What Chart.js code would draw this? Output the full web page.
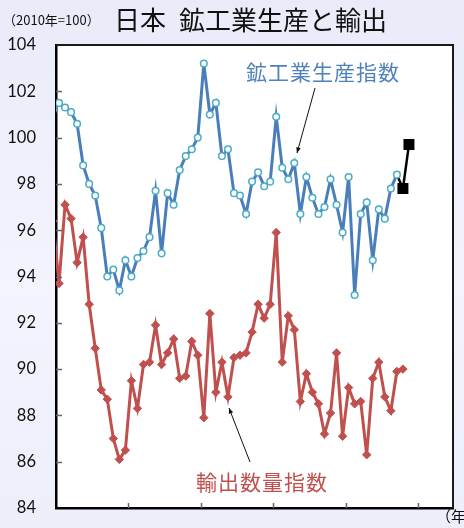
<!DOCTYPE html>
<html>
<head>
<meta charset="utf-8">
<script src="https://cdn.jsdelivr.net/npm/chart.js@4.4.1/dist/chart.umd.min.js"></script>
<style>
  html, body { margin: 0; padding: 0; }
  body {
    width: 464px; height: 528px; overflow: hidden;
    background: linear-gradient(180deg, #e9ebf9 0%, #f3f4fd 55%, #eceefa 100%);
  }
  #wrap { position: relative; width: 464px; height: 528px; }
</style>
</head>
<body>
<div id="wrap"><canvas id="chart" width="464" height="528"></canvas></div>
<script>
'use strict';

// 月次 (2011年12月〜2016年10月)、x = 2012年1月からの月数
const yearLabels = ['2012', '2013', '2014', '2015', '2016', '2017'];
const yTicks = [84, 86, 88, 90, 92, 94, 96, 98, 100, 102, 104];

// 鉱工業生産指数 (2011/12 〜 2016/9)
const production = [101.2, 101.5, 101.3, 101.1, 100.6, 98.8, 98.0, 97.5, 96.1, 94.0, 94.3, 93.4,
    94.7, 94.0, 94.8, 95.1, 95.7, 97.7, 95.0, 97.6, 97.1, 98.6, 99.2, 99.5,
    100.0, 103.2, 101.0, 101.5, 99.2, 99.5, 97.6, 97.5, 96.7, 98.1, 98.5, 97.9,
    98.1, 100.9, 98.7, 98.2, 98.9, 96.7, 98.3, 97.4, 96.7, 97.0, 98.2, 97.1,
    95.9, 98.3, 93.2, 96.7, 97.2, 94.7, 96.9, 96.5, 97.8, 98.4];

// 輸出数量指数 (2011/12 〜 2016/10)
const exportsVolume = [96.4, 93.7, 97.1, 96.5, 94.6, 95.7, 92.8, 90.9, 89.1, 88.7, 87.0, 86.1,
    86.5, 89.5, 88.3, 90.2, 90.3, 91.9, 90.2, 90.7, 91.3, 89.6, 89.7, 91.2,
    90.6, 87.9, 92.4, 89.0, 90.3, 88.8, 90.5, 90.6, 90.7, 91.6, 92.8, 92.2,
    92.8, 95.9, 90.3, 92.3, 91.7, 88.6, 89.8, 89.0, 88.5, 87.2, 88.1, 90.7,
    87.1, 89.2, 88.5, 88.6, 86.3, 89.6, 90.3, 88.8, 88.2, 89.9, 90.0];

// 製造工業生産予測 (2016/9 実績 → 10月, 11月)
const forecast = [98.4, 97.8, 99.7];
const forecastStart = 56; // 2016年9月

const xMax = 65.8;

function toPoints(values, firstMonth) {
    return values.map((v, k) => ({ x: firstMonth + k + 0.5, y: v }));
}

const jp = '"Noto Sans CJK JP", "Noto Sans", sans-serif';

function arrow(ctx, x1, y1, x2, y2) {
    const ang = Math.atan2(y2 - y1, x2 - x1);
    ctx.save();
    ctx.strokeStyle = '#111';
    ctx.fillStyle = '#111';
    ctx.lineWidth = 1;
    ctx.beginPath();
    ctx.moveTo(x1, y1);
    ctx.lineTo(x2, y2);
    ctx.stroke();
    ctx.beginPath();
    ctx.moveTo(x2, y2);
    ctx.lineTo(x2 - 6 * Math.cos(ang - 0.4), y2 - 6 * Math.sin(ang - 0.4));
    ctx.lineTo(x2 - 6 * Math.cos(ang + 0.4), y2 - 6 * Math.sin(ang + 0.4));
    ctx.closePath();
    ctx.fill();
    ctx.restore();
}

const decorPlugin = {
    id: 'decor',
    beforeDraw(chart) {
        const { ctx, chartArea: a } = chart;
        ctx.save();
        ctx.fillStyle = '#ffffff';
        ctx.fillRect(a.left, a.top, a.right - a.left, a.bottom - a.top);
        ctx.restore();
    },
    afterDraw(chart) {
        const { ctx, chartArea: a } = chart;
        const xs = chart.scales.x;
        const ys = chart.scales.y;
        ctx.save();

        // 枠
        ctx.strokeStyle = '#1a1a1a';
        ctx.lineWidth = 2;
        ctx.beginPath();
        ctx.moveTo(a.left, a.top);
        ctx.lineTo(a.right, a.top);
        ctx.lineTo(a.right, a.bottom);
        ctx.stroke();

        // 内向きの目盛り
        ctx.strokeStyle = '#666';
        ctx.lineWidth = 1.5;
        yTicks.slice(1, -1).forEach(v => {
            const y = Math.round(ys.getPixelForValue(v)) + 0.5;
            ctx.beginPath();
            ctx.moveTo(a.left, y);
            ctx.lineTo(a.left + 6, y);
            ctx.stroke();
        });
        for (let m = 12; m < xMax; m += 12) {
            const x = Math.round(xs.getPixelForValue(m)) + 0.5;
            ctx.beginPath();
            ctx.moveTo(x, a.bottom);
            ctx.lineTo(x, a.bottom - 5);
            ctx.stroke();
        }

        // 年ラベル (下端で切れている)
        ctx.fillStyle = '#b4b4c0';
        ctx.textAlign = 'center';
        ctx.textBaseline = 'top';
        ctx.font = '13px Lato';
        yearLabels.forEach((t, i) => {
            ctx.fillText(t, xs.getPixelForValue(i * 12), a.bottom + 19);
        });

        // タイトル
        ctx.textAlign = 'left';
        ctx.fillStyle = '#111';
        ctx.textBaseline = 'middle';
        ctx.font = '26px ' + jp;
        ctx.fillText('日本', 114, 20);
        ctx.fillText('鉱工業生産と輸出', 179, 20);
        ctx.font = '13px ' + jp;
        ctx.fillText('（2010年=100）', 3, 20);
        ctx.font = '15px ' + jp;
        ctx.fillText('（年）', 436, 516);

        // 系列ラベル
        ctx.font = '21px ' + jp;
        ctx.letterSpacing = '1px';
        ctx.fillStyle = '#4f81bd';
        ctx.fillText('鉱工業生産指数', 246, 72);
        ctx.fillStyle = '#c0504d';
        ctx.fillText('輸出数量指数', 196, 482);
        ctx.letterSpacing = '0px';

        arrow(ctx, 315, 88, 297, 153);
        arrow(ctx, 250, 462, 229, 408);
        ctx.restore();
    }
};

new Chart(document.getElementById('chart'), {
    type: 'line',
    data: {
        datasets: [
            {
                label: '輸出数量指数',
                data: toPoints(exportsVolume, -1),
                borderColor: '#c0504d',
                borderWidth: 3,
                pointStyle: 'rectRot',
                pointRadius: 4.2,
                pointBackgroundColor: '#c0504d',
                pointBorderColor: '#c0504d',
                pointBorderWidth: 1,
                tension: 0
            },
            {
                label: '鉱工業生産指数',
                data: toPoints(production, -1),
                borderColor: '#4a7ebb',
                borderWidth: 3,
                pointStyle: 'circle',
                pointRadius: 3.3,
                pointBackgroundColor: '#ffffff',
                pointBorderColor: '#4bacc6',
                pointBorderWidth: 1.5,
                tension: 0
            },
            {
                label: '予測',
                data: toPoints(forecast, forecastStart),
                borderColor: '#000000',
                borderWidth: 2.5,
                pointStyle: 'rect',
                pointRadius: [0, 6, 6],
                pointBackgroundColor: '#000000',
                pointBorderColor: '#000000',
                tension: 0
            }
        ]
    },
    options: {
        responsive: false,
        animation: false,
        events: [],
        layout: { padding: { top: 45, right: 11, left: 0, bottom: 0 } },
        plugins: {
            legend: { display: false },
            tooltip: { enabled: false }
        },
        scales: {
            x: {
                type: 'linear',
                min: 0,
                max: xMax,
                grid: { display: false, drawTicks: false },
                border: { display: true, color: '#000', width: 2.5 },
                afterFit(scale) { scale.height = 20; },
                ticks: { display: false, stepSize: 12 }
            },
            y: {
                min: 84,
                max: 104,
                // 目盛り線は描かず、tickLength で数値ラベルの位置だけ決める
                grid: { display: false, drawTicks: true, tickLength: 17 },
                border: { display: true, color: '#000', width: 2.5 },
                afterFit(scale) { scale.width = 56; },
                ticks: {
                    stepSize: 2,
                    padding: 3,
                    color: '#111',
                    font: { family: 'Lato', size: 16.5 },
                    callback: v => (yTicks.includes(v) ? String(v) : null)
                }
            }
        }
    },
    plugins: [decorPlugin]
});
</script>
</body>
</html>
